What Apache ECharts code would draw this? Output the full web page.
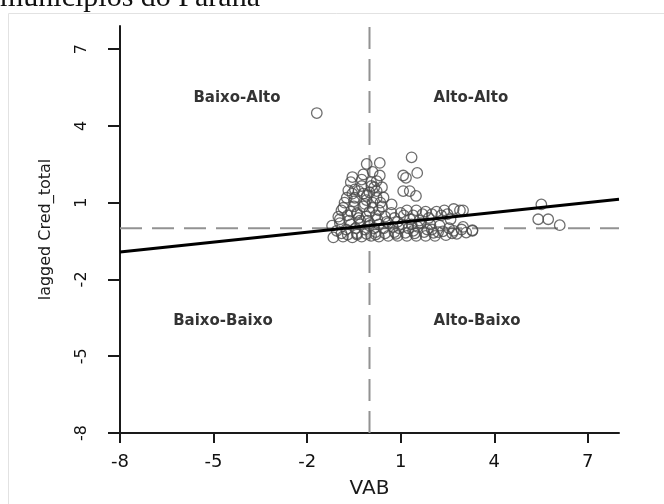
<!DOCTYPE html>
<html>
<head>
<meta charset="utf-8">
<script src="https://cdn.jsdelivr.net/npm/echarts@6/dist/echarts.min.js"></script>
<style>
html,body{margin:0;padding:0;background:#fff;}
#chart{width:664px;height:504px;}
</style>
</head>
<body>
<div id="chart"></div>
<script>
// ---- data ----
var tickValues = [-8, -5, -2, 1, 4, 7];
var vab = [
  -0.09, 0.33, 0.33, 0.23, 0.06, -0.25, -0.47, -0.68, 0.23, -0.09, -0.73, -0.47, 0.23, -0.2, 0.0, -0.55, 0.15, -0.35, -0.1, 0.35,
  1.35, 1.08, 1.17, 1.53, 1.08, 1.29, 1.49,
  -1.69,
  -0.84, -0.5, -0.2, 0.1, 0.4, 0.71, -1.0, -0.7, -0.4, -0.1, 0.2, 0.5, -0.9, -0.6, 0.0, 0.3, -0.3, 0.8, 1.1, 1.4, 1.7, 2.0, 2.3, 2.7, 2.9, 2.5, 1.9, 1.6,
  -1.16, -0.85, -0.55, -0.25, 0.05, 0.3, 0.6, 0.9, 1.2, 1.5, 1.8, 2.1, 2.45, 2.8, 3.1, 3.3,
  -1.05, -0.75, -0.45, -0.15, 0.15, 0.45, 0.75, 1.05, 1.35, 1.65, 1.95, 2.25, 2.55, 0.6, 0.9,
  -1.2, -0.95, -0.6, -0.3, 0.0, 0.3,
  -0.9, -0.4, 0.2, 0.8, 1.4, 2.0, 2.7, 3.0,
  5.51, 5.41, 5.73, 6.1, 3.0, 3.3,
  -0.95, -0.65, -0.35, -0.05, 0.25, 0.55, -0.8, -0.5, -0.15, 0.1, 0.45, -0.6, -0.25, 0.05, 0.4,
  1.2, 1.5, 1.8, 2.15, 2.4, 2.6, 1.0, 1.3, 0.7, 0.95, 1.25, 1.55, 1.85, 2.2,
  -0.7, -0.4, -0.1, 0.2, 0.5, 0.85, 1.15, 1.45, 1.75, 2.05, 2.35, 2.65, 2.95,
  -0.55, -0.2, 0.1, -0.4, 0.0
];
var lagCred = [
  2.51, 2.55, 2.06, 1.84, 1.65, 1.65, 1.52, 1.48, 1.45, 1.26, 1.19, 1.19, 1.19, 1.35, 1.4, 1.35, 1.6, 1.45, 1.1, 1.0,
  2.77, 2.06, 1.97, 2.16, 1.45, 1.45, 1.26,
  4.5,
  0.8, 0.85, 0.85, 0.8, 0.85, 0.93, 0.45, 0.5, 0.55, 0.45, 0.5, 0.45, 0.7, 0.65, 0.65, 0.7, 0.3, 0.4, 0.5, 0.5, 0.55, 0.55, 0.5, 0.75, 0.7, 0.55, 0.4, 0.3,
  -0.36, -0.33, -0.36, -0.33, -0.3, -0.33, -0.3, -0.3, -0.3, -0.3, -0.3, -0.3, -0.27, -0.22, -0.17, -0.1,
  -0.1, -0.05, 0.0, -0.05, 0.0, 0.0, 0.05, 0.15, 0.15, 0.2, 0.15, 0.1, 0.0, 0.2, 0.25,
  0.1, 0.2, 0.15, 0.15, 0.2, 0.15,
  -0.2, -0.2, -0.15, -0.15, -0.1, -0.05, -0.1, 0.05,
  0.93, 0.35, 0.35, 0.12, 0.7, -0.08,
  0.35, 0.3, 0.4, 0.3, 0.35, 0.25, 1.0, 1.05, 0.95, 1.0, 1.2, 1.8, 1.9, 1.8, 1.6,
  0.7, 0.7, 0.65, 0.65, 0.7, 0.35, 0.6, 0.35, 0.6, 0.0, 0.0, 0.05, -0.05, -0.15,
  -0.25, -0.25, -0.22, -0.25, -0.2, -0.22, -0.18, -0.2, -0.15, -0.18, -0.12, -0.2, -0.05,
  2.0, 2.1, 2.2, 0.6, 0.1
];
var regX = [-8, 8];
var regY = [-0.93, 1.13];
var refV = [[0, -8], [0, 7.9]];
var refH = [[-8, 0], [8, 0]];
var quadNames = ['Baixo-Alto', 'Alto-Alto', 'Baixo-Baixo', 'Alto-Baixo'];
var quadX = [-4.25, 3.25, -4.7, 3.45];
var quadY = [5.1, 5.1, -3.62, -3.62];
var titleText = 'municípios do Paraná';

// ---- build ----
var pts = vab.map(function (x, i) { return [x, lagCred[i]]; });
var regData = regX.map(function (x, i) { return [x, regY[i]]; });
var quadData = quadNames.map(function (n, i) { return { name: n, value: [quadX[i], quadY[i]] }; });

var axisCol = '#1a1a1a';
var chart = echarts.init(document.getElementById('chart'));
chart.setOption({
  backgroundColor: '#fff',
  animation: false,
  graphic: [
    { type: 'rect', shape: { x: 8.5, y: 13.5, width: 700, height: 600 },
      style: { fill: 'none', stroke: '#e2e2e2', lineWidth: 1 }, z: -1 },
    { type: 'text', x: 0, y: 13,
      style: { text: titleText, font: '30px "Liberation Serif"', fill: '#111', verticalAlign: 'bottom' } }
  ],
  grid: { left: 120, right: 45, top: 26, bottom: 69 },
  xAxis: {
    type: 'value', min: -8, max: 8,
    name: 'VAB', nameLocation: 'middle', nameGap: 46,
    nameTextStyle: { fontFamily: 'DejaVu Sans', fontSize: 20, color: '#1a1a1a' },
    axisLine: { show: true, onZero: false, lineStyle: { color: axisCol, width: 2 } },
    axisTick: { show: true, length: 10, customValues: tickValues, lineStyle: { color: axisCol, width: 2 } },
    axisLabel: { customValues: tickValues, margin: 20, fontFamily: 'DejaVu Sans', fontSize: 18, color: '#111' },
    splitLine: { show: false }
  },
  yAxis: {
    type: 'value', min: -8, max: 7.9,
    name: 'lagged Cred_total', nameLocation: 'middle', nameGap: 66, nameRotate: 90,
    nameTextStyle: { fontFamily: 'DejaVu Sans', fontSize: 16, color: '#1a1a1a' },
    axisLine: { show: true, onZero: false, lineStyle: { color: axisCol, width: 2 } },
    axisTick: { show: true, length: 12, customValues: tickValues, lineStyle: { color: axisCol, width: 2 } },
    axisLabel: { customValues: tickValues, margin: 30, rotate: 90, fontFamily: 'DejaVu Sans', fontSize: 16, color: '#111' },
    splitLine: { show: false }
  },
  series: [
    { type: 'line', data: refV, symbol: 'none', silent: true,
      lineStyle: { color: '#929292', width: 2, type: [22, 10] }, z: 1 },
    { type: 'line', data: refH, symbol: 'none', silent: true,
      lineStyle: { color: '#929292', width: 2, type: [22, 10] }, z: 1 },
    { type: 'scatter', data: pts, symbol: 'circle', symbolSize: 10.5,
      itemStyle: { color: 'rgba(255,255,255,0)', borderColor: '#4a4a4a', borderWidth: 1.3 }, z: 2 },
    { type: 'line', data: regData, symbol: 'none', silent: true,
      lineStyle: { color: '#000', width: 3 }, z: 3 },
    { type: 'scatter', data: quadData, symbolSize: 0, silent: true,
      label: { show: true, position: 'inside', formatter: '{b}',
        fontFamily: 'DejaVu Sans', fontWeight: 'bold', fontSize: 15, color: '#000' }, z: 4 }
  ]
});
</script>
</body>
</html>
